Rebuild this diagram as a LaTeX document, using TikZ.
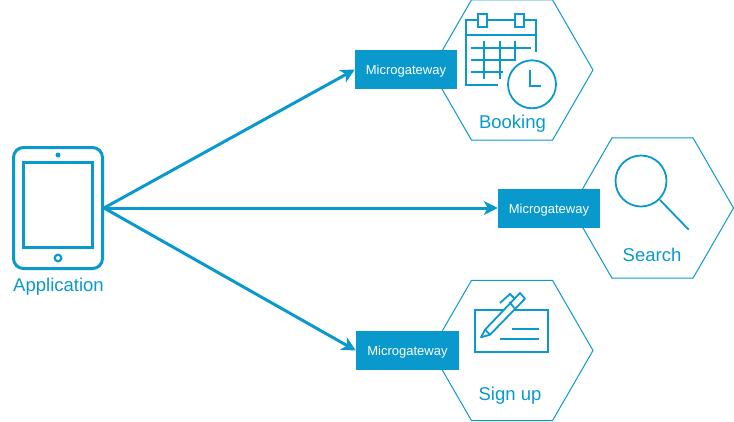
\documentclass[tikz,border=0pt]{standalone}
\usepackage{fontspec}
\setmainfont{Liberation Sans}
\usetikzlibrary{shapes.geometric,arrows.meta}
\definecolor{msblue}{RGB}{9,153,204}
\tikzset{
  hexbox/.style={regular polygon, regular polygon sides=6, minimum size=162pt, inner sep=0pt, draw=msblue, line width=1pt},
  gatewaybox/.style={rectangle, fill=msblue, text=white, minimum width=102pt, minimum height=39pt, inner sep=0pt, text height=13pt, text depth=2.4pt, font=\fontsize{13}{15}\selectfont},
  iconlabel/.style={text=msblue, inner sep=0pt, text height=14pt, text depth=4pt, font=\fontsize{18.5}{22}\selectfont},
  iconline/.style={draw=msblue, line width=1.8pt},
  flowarrow/.style={draw=msblue, line width=3pt, -{Stealth[length=14pt,width=14pt,inset=4pt]}}
}
\begin{document}
\begin{tikzpicture}[x=1pt,y=-1pt]
  \useasboundingbox (0,0) rectangle (734,421);
  % Hexagons
  \node[hexbox] (bookinghex) at (512,70) {};
  \node[hexbox] (searchhex) at (652.5,208) {};
  \node[hexbox] (signuphex) at (512,350.5) {};
  % Gateways
  \node[gatewaybox] (bookinggw) at (406,69.5) {Microgateway};
  \node[gatewaybox] (searchgw) at (549,208) {Microgateway};
  \node[gatewaybox, minimum width=103pt] (signupgw) at (407.5,350.5) {Microgateway};
  % Tablet
  \node[draw=msblue, line width=3pt, rounded corners=10pt, minimum width=89pt, minimum height=121pt, inner sep=0pt] (tablet) at (58,208) {};
  \node[draw=msblue, line width=3pt, minimum width=69pt, minimum height=85pt, inner sep=0pt] (screen) at (58,205) {};
  \fill[msblue] (58,155) circle (2.5);
  \draw[msblue, line width=2.2pt] (58,258) circle (3.3);
  \node[iconlabel] (applabel) at (58.5,286) {Application};
  % Arrows
  \draw[flowarrow] (tablet.east) -- (bookinggw.west);
  \draw[flowarrow] (tablet.east) -- (searchgw.west);
  \draw[flowarrow] (tablet.east) -- (signupgw.west);
  % Calendar
  \draw[iconline] (536,51.7) -- (536,20) -- (524.3,20) (514.7,20) -- (487.3,20) (477.7,20) -- (465.7,20) -- (465.7,85) -- (497.7,85);
  \draw[iconline] (477.7,14) rectangle (487.3,26.7) (514.7,14) rectangle (524.3,26.7);
  \draw[iconline] (465.7,35) -- (536,35);
  \draw[iconline] (471.3,47.7) -- (531,47.7) (471.3,60) -- (515.7,60) (471.3,72) -- (503.3,72);
  \draw[iconline] (484,41.3) -- (484,79.3) (499.7,41.3) -- (499.7,79.3) (515,41.3) -- (515,60);
  \draw[iconline] (532,84.3) circle (24);
  \draw[iconline] (530.3,70) -- (530.3,86) -- (540.7,86);
  \node[iconlabel] (bookinglabel) at (512.5,123.5) {Booking};
  % Magnifier
  \draw[iconline] (641,181) circle (25.5);
  \draw[iconline] (660,200) -- (688.7,229.7);
  \node[iconlabel] (searchlabel) at (652,256) {Search};
  % Pen and form
  \draw[iconline] (475,309.7) rectangle (548,352.3);
  \draw[iconline] (512.3,329) -- (539,329) (500,338.7) -- (539,338.7);
  \draw[iconline, fill=white, line join=round] (481,337.3) -- (485,329.7) -- (520,293) -- (525,298.7) -- (490,334.7) -- cycle;
  \draw[iconline] (485,329.7) -- (490,334.7);
  \draw[iconline] (509.3,302) -- (514.3,308);
  \draw[iconline] (500,303) -- (510,294) -- (514,298);
  \node[iconlabel] (signuplabel) at (510,395.7) {Sign up};
\end{tikzpicture}
\end{document}
